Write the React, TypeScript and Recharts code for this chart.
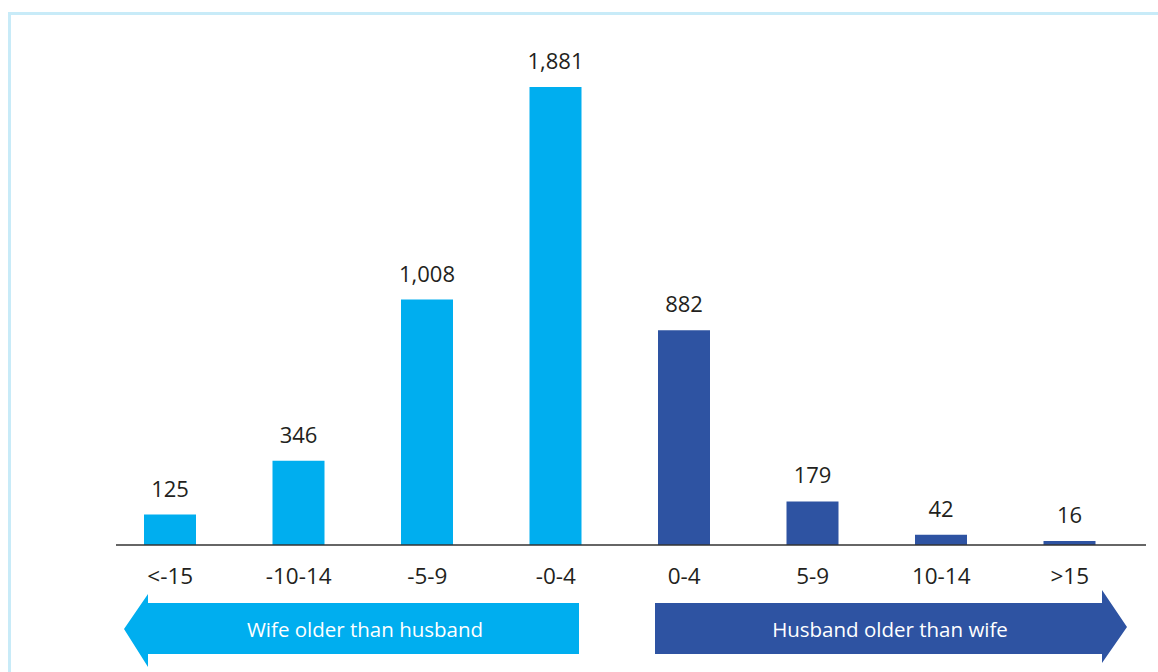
import React from "react";
import { BarChart, Bar, XAxis, YAxis, Cell, LabelList } from "recharts";

const categories = ["<-15", "-10-14", "-5-9", "-0-4", "0-4", "5-9", "10-14", ">15"];
const counts = [125, 346, 1008, 1881, 882, 179, 42, 16];
const groups = ["wife", "wife", "wife", "wife", "husband", "husband", "husband", "husband"];

const COLORS: Record<string, string> = { wife: "#00aeef", husband: "#2e53a2" };
const FONT = "'Open Sans', 'Noto Sans', sans-serif";

const data = categories.map((name, i) => ({ name, value: counts[i], group: groups[i] }));

const Arrows = () => (
  <svg
    width={1158}
    height={672}
    style={{ position: "absolute", left: 0, top: 0, pointerEvents: "none" }}
  >
    <polygon
      points="579,603 148,603 148,594 124,629 148,667 148,654 579,654"
      fill={COLORS.wife}
    />
    <text x={365} y={629} fill="#fff" fontSize={20.5} fontFamily={FONT} textAnchor="middle" dominantBaseline="central">
      Wife older than husband
    </text>
    <polygon
      points="655,603 1102,603 1102,590 1127,627 1102,663 1102,654 655,654"
      fill={COLORS.husband}
    />
    <text x={890} y={629} fill="#fff" fontSize={20.5} fontFamily={FONT} textAnchor="middle" dominantBaseline="central">
      Husband older than wife
    </text>
  </svg>
);

export default function App() {
  return (
    <div style={{ position: "relative", width: 1158, height: 672, background: "#fff", overflow: "hidden" }}>
      <style>{`body{margin:0}`}</style>
      <div
        style={{
          position: "absolute",
          left: 8,
          top: 12,
          width: 1200,
          height: 700,
          borderTop: "3px solid #c8ebf8",
          borderLeft: "3px solid #c8ebf8",
        }}
      />
      <div style={{ position: "absolute", left: 0, top: 0 }}>
        <BarChart
          width={1158}
          height={672}
          data={data}
          margin={{ top: 58, right: 12, bottom: 97, left: 116 }}
        >
          <XAxis
            dataKey="name"
            height={30}
            padding={{ left: -10, right: 12 }}
            axisLine={{ stroke: "#333", strokeWidth: 1.5 }}
            tickLine={false}
            tickMargin={17}
            tick={{ fill: "#231f20", fontSize: 22.5, fontFamily: FONT }}
            interval={0}
          />
          <YAxis hide domain={[0, 2000]} />
          <Bar dataKey="value" barSize={52} isAnimationActive={false}>
            {data.map((d, i) => (
              <Cell key={`cell-${i}`} fill={COLORS[d.group]} />
            ))}
            <LabelList
              dataKey="value"
              position="top"
              offset={18}
              fill="#231f20"
              fontSize={22}
              fontFamily={FONT}
              formatter={(v: any) => Number(v).toLocaleString("en-US")}
            />
          </Bar>
        </BarChart>
      </div>
      <Arrows />
    </div>
  );
}
